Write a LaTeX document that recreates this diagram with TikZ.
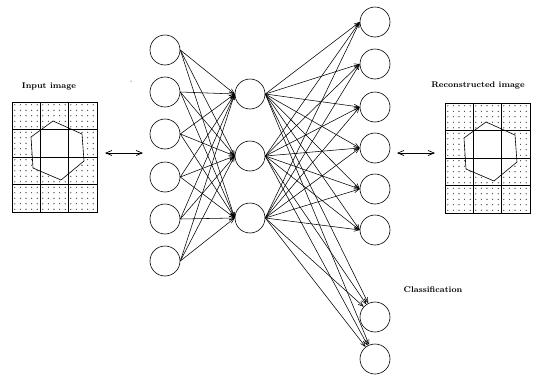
\documentclass[tikz,border=0pt]{standalone}
\usetikzlibrary{arrows.meta}
\begin{document}
\begin{tikzpicture}[x=1pt,y=-1pt,
  neuron/.style={circle,draw,line width=0.6pt,minimum size=30pt,inner sep=0pt},
  conn/.style={-{Straight Barb[length=5pt,width=4pt]},line width=0.55pt},
  darrow/.style={{Straight Barb[length=6pt,width=5pt]}-{Straight Barb[length=6pt,width=5pt]},line width=0.7pt},
  title/.style={font=\bfseries\fontsize{8.3}{9}\selectfont,inner sep=0pt},
  gridline/.style={line width=0.8pt},
  hexline/.style={line width=0.6pt}]
\useasboundingbox (0,0) rectangle (542,386);

% images
\foreach \gx/\gy in {12/102,445/103}{
  \begin{scope}[shift={(\gx,\gy)}]
    \foreach \i in {0,...,14}{
      \foreach \j in {0,...,19}{
        \fill (2.8+5.6*\i, 2.75+5.5*\j) circle (0.55pt);
      }
    }
    \fill[white] (41,19)--(70,32)--(72,59)--(49,78)--(21,66)--(19,35)--cycle;
    \draw[gridline] (0,0) rectangle (85,110);
    \draw[gridline] (28.3,0) -- (28.3,110) (56.7,0) -- (56.7,110);
    \draw[gridline] (0,27.5) -- (85,27.5) (0,55) -- (85,55) (0,82.5) -- (85,82.5);
    \draw[hexline] (41,19)--(70,32)--(72,59)--(49,78)--(21,66)--(19,35)--cycle;
  \end{scope}
}

\node[title] (tin) at (49,86) {Input image};
\node[title] (trec) at (478,85) {Reconstructed image};
\node[title] (tcls) at (433,290) {Classification};

\fill (131,81) circle (0.5pt);

% neurons
\foreach \k/\y in {1/50,2/92,3/134,4/177,5/219,6/261}
  \node[neuron] (i\k) at (165,\y) {};
\foreach \k/\y in {1/94,2/156,3/218}
  \node[neuron] (h\k) at (250,\y) {};
\foreach \k/\y in {1/22,2/64,3/107,4/148,5/189,6/230}
  \node[neuron] (o\k) at (375,\y) {};
\node[neuron] (c1) at (375,317) {};
\node[neuron] (c2) at (375,359) {};

% connections
\foreach \i in {1,...,6}
  \foreach \h in {1,2,3}
    \draw[conn] (i\i.east) -- (h\h.west);
\foreach \h in {1,2,3}
  \foreach \o in {1,...,6}
    \draw[conn] (h\h.east) -- (o\o.west);
\foreach \h in {1,2,3}
  \foreach \c in {1,2}
    \draw[conn] (h\h.east) -- (c\c);

% double arrows
\coordinate (la) at (105,153);
\coordinate (lb) at (143,153);
\coordinate (ra) at (397,153);
\coordinate (rb) at (435,153);
\draw[darrow] (la) -- (lb);
\draw[darrow] (ra) -- (rb);
\end{tikzpicture}
\end{document}
